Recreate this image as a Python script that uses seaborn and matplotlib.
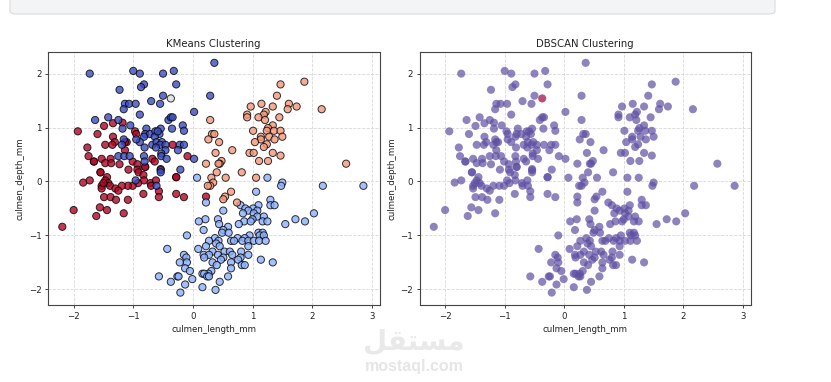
import seaborn as sns
import pandas as pd
import matplotlib.pyplot as plt
from matplotlib.patches import FancyBboxPatch

# values (scaled culmen length / depth per KMeans cluster)
blue_x = [-1.73,-1.0,-0.89,-0.5,-0.32,0.36,-0.82,-0.87,-0.28,-1.23,-0.5,0.29,-0.7,-1.14,-1.07,-0.96,-0.55,-1.16,0.02,-0.89,
          -1.64,-1.42,-1.25,-0.41,-0.37,-0.34,-1.18,-1.05,-0.78,-0.54,-0.35,-0.17,-0.15,-0.8,-0.72,-0.63,-0.56,-0.82,-0.64,-0.59,
          -1.16,-0.89,-0.95,-0.81,-0.68,-0.61,-0.52,-0.55,-0.46,-0.62,-0.46,-0.53,-0.53,-0.44,-0.22,-0.15,-0.25,0.02,-1.19,
          -1.25,-1.15,-1.06,-0.82,-0.81,-0.54,-0.54,-0.21,-0.96,-0.61]
blue_y = [2.0,2.05,2.0,2.0,2.05,2.2,1.8,1.75,1.8,1.7,1.59,1.59,1.49,1.44,1.44,1.44,1.44,1.34,1.29,1.24,
          1.14,1.19,1.14,1.14,1.19,1.19,0.98,1.04,0.98,0.98,0.98,1.04,0.94,0.88,0.88,0.93,0.88,0.83,0.83,0.93,
          0.78,0.73,0.78,0.63,0.68,0.73,0.73,0.68,0.68,0.63,0.58,0.52,0.47,0.42,0.68,0.68,0.58,0.42,0.68,
          0.47,0.47,0.47,0.47,0.37,0.21,0.17,0.22,0.02,-0.08]

red_x = [-1.93,-1.6,-1.34,-1.77,-1.47,-1.31,-1.35,-1.11,-1.14,-1.75,-1.66,-1.66,-1.53,-1.38,-1.47,-1.37,-1.23,-1.14,-1.55,-1.55,
         -1.84,-1.73,-1.44,-1.47,-1.42,-1.53,-1.53,-1.39,-1.5,-1.08,-1.01,-0.93,-0.93,-0.91,-0.83,-0.8,-0.8,-0.82,-0.68,-0.64,
         -0.71,-0.62,-0.7,-0.92,-1.01,-1.09,-1.19,-1.3,-1.25,-1.49,-1.38,-1.29,-1.09,-0.83,-0.57,-0.57,-0.28,-0.15,-2.0,-1.56,
         -1.44,-1.62,-1.16,-0.34,-0.09,-0.28,-0.28,-0.97,-0.95,-1.49,-1.34,-1.18,-2.19,0.22,-0.54]
red_y = [0.93,0.88,0.83,0.63,0.68,0.73,0.68,0.73,0.73,0.47,0.37,0.37,0.42,0.42,0.34,0.34,0.32,0.58,0.17,0.17,
         -0.02,0.02,0.08,0.02,-0.03,-0.08,-0.13,-0.08,-0.03,0.22,0.37,0.32,0.22,0.17,0.12,0.27,0.27,0.02,0.42,0.37,
         -0.03,0.02,-0.08,-0.03,-0.08,-0.08,-0.08,-0.13,-0.17,-0.29,-0.29,-0.34,-0.34,-0.23,-0.18,-0.29,-0.23,-0.29,-0.53,-0.48,
         -0.53,-0.64,-0.59,0.68,0.47,0.08,0.08,0.93,0.88,1.03,1.08,1.09,-0.84,-0.28,0.23]

salmon_x = [1.47,1.87,1.41,1.15,1.61,0.97,1.34,1.74,1.59,2.16,1.22,0.91,0.91,1.19,1.1,1.21,1.45,0.29,1.34,1.26,
            1.24,1.36,1.47,1.01,0.32,0.36,1.14,1.28,1.5,0.26,1.14,1.37,0.44,1.04,1.24,1.19,0.66,0.38,0.95,1.02,
            1.34,1.47,1.11,1.26,0.48,0.45,0.43,0.22,2.57,0.4,0.82,0.31,0.55,1.06,0.34,0.29,0.25,0.64,0.54,0.51,0.74]
salmon_y = [1.8,1.85,1.59,1.44,1.44,1.39,1.39,1.39,1.34,1.34,1.29,1.24,1.19,1.24,1.19,1.14,1.19,1.14,1.04,0.99,
            0.94,0.94,0.94,0.94,0.88,0.88,0.83,0.83,0.83,0.78,0.78,0.78,0.73,0.73,0.69,0.64,0.58,0.53,0.53,0.53,
            0.53,0.48,0.38,0.38,0.38,0.33,0.33,0.33,0.33,0.17,0.17,0.07,0.07,0.07,-0.02,-0.08,-0.08,-0.19,-0.28,-0.33,-0.39]

light_x = [0.07,1.25,1.5,1.48,2.18,2.86,1.06,0.22,1.3,1.3,1.37,1.1,0.8,0.88,1.01,0.51,0.93,1.08,1.02,0.84,
           2.03,1.08,1.19,0.42,0.21,1.0,1.72,0.1,0.86,0.97,1.17,1.25,1.88,0.44,0.77,1.55,0.59,0.18,0.51,0.49,
           0.6,1.1,1.17,-0.1,0.95,1.12,1.19,0.37,0.75,0.87,0.27,0.43,0.64,0.69,0.83,0.93,1.02,1.11,1.22,0.39,
           0.93,0.22,0.45,-0.43,0.09,0.33,0.53,0.62,0.81,-0.15,0.18,0.27,0.42,0.66,0.93,-0.11,0.19,0.51,0.8,0.76,
           0.47,1.14,-0.22,-0.1,0.33,0.64,1.34,0.4,0.82,0.87,-0.13,0.64,-0.05,0.31,0.26,0.16,0.19,-0.57,-0.26,-0.24,
           0.24,0.27,0.59,-0.01,-0.37,0.45,-0.13,0.16,0.38,-0.21]
light_y = [0.07,0.07,-0.02,-0.08,-0.08,-0.08,-0.19,-0.39,-0.34,-0.44,-0.44,-0.44,-0.44,-0.5,-0.5,-0.54,-0.54,-0.54,-0.59,-0.59,
           -0.59,-0.65,-0.65,-0.7,-0.7,-0.7,-0.7,-0.74,-0.74,-0.74,-0.74,-0.74,-0.74,-0.79,-0.79,-0.79,-0.84,-0.9,-0.9,-0.95,
           -0.95,-0.95,-0.95,-1.0,-1.0,-1.0,-1.0,-1.05,-1.05,-1.05,-1.1,-1.1,-1.1,-1.1,-1.1,-1.1,-1.1,-1.1,-1.1,-1.15,
           -1.2,-1.2,-1.2,-1.25,-1.25,-1.3,-1.3,-1.3,-1.3,-1.36,-1.36,-1.36,-1.36,-1.36,-1.36,-1.41,-1.41,-1.41,-1.41,-1.45,
           -1.45,-1.45,-1.5,-1.5,-1.5,-1.5,-1.5,-1.55,-1.55,-1.55,-1.61,-1.61,-1.66,-1.66,-1.71,-1.71,-1.71,-1.76,-1.76,-1.76,
           -1.76,-1.76,-1.76,-1.81,-1.86,-1.86,-1.91,-1.96,-2.01,-2.06]

grey_x = [-0.37]
grey_y = [1.54]

sns.set_style("white")
plt.rcParams['font.family'] = ['DejaVu Sans']

frames = []
for xs, ys, lab in [(red_x, red_y, 4), (blue_x, blue_y, 0), (light_x, light_y, 1), (grey_x, grey_y, 2), (salmon_x, salmon_y, 3)]:
    frames.append(pd.DataFrame({"culmen_length_mm": xs, "culmen_depth_mm": ys, "kmeans": lab}))
df = pd.concat(frames, ignore_index=True)
df["dbscan"] = (df["kmeans"] != 2).astype(int) - 1

fig = plt.figure(figsize=(8.31, 3.82), dpi=100)
ax1 = fig.add_axes([48/831, 1-305/382, 331.5/831, 253.5/382])
ax2 = fig.add_axes([419.5/831, 1-305/382, 331.2/831, 253.5/382])

sns.scatterplot(data=df, x="culmen_length_mm", y="culmen_depth_mm", hue="kmeans", palette="coolwarm", hue_norm=(0, 4),
                s=27, edgecolor="k", linewidth=0.7, alpha=0.8, legend=False, ax=ax1)
sns.scatterplot(data=df, x="culmen_length_mm", y="culmen_depth_mm", hue="dbscan", palette="Spectral", hue_norm=(-1, 0),
                s=34, edgecolor="none", alpha=0.7, legend=False, ax=ax2)

for ax, title in [(ax1, "KMeans Clustering"), (ax2, "DBSCAN Clustering")]:
    ax.set_title(title, fontsize=7.3, pad=3.5, color="#222222")
    ax.set_xlim(-2.43, 3.13)
    ax.set_ylim(-2.29, 2.41)
    ax.set_xticks([-2, -1, 0, 1, 2, 3])
    ax.set_yticks([-2, -1, 0, 1, 2])
    ax.set_xlabel("culmen_length_mm", fontsize=6.2, labelpad=3, color="#222222")
    ax.set_ylabel("culmen_depth_mm", fontsize=6.2, labelpad=3, color="#222222")
    ax.tick_params(labelsize=6.2, length=2.2, width=0.6, pad=2.5, bottom=True, left=True, colors="#222222")
    ax.grid(True, linestyle="--", linewidth=0.6, color="#d8d8d8")
    ax.set_axisbelow(True)
    for s in ax.spines.values():
        s.set_linewidth(0.8)
        s.set_color("#444444")

# page furniture around the chart
fig.add_artist(FancyBboxPatch((10/831, 1-14/382), 765/831, 30/382, transform=fig.transFigure,
                              boxstyle="round,pad=0,rounding_size=0.008", facecolor="#f3f4f6", edgecolor="#dcdcdc", linewidth=0.8))
fig.text(414/831, 1-342/382, "\ufedE\ufed8\ufe98\ufeb4\ufee3", fontsize=20, fontweight="bold", color="#e9e9e9",
         ha="center", va="center")
fig.text(414/831, 1-366/382, "mostaql.com", fontsize=11.5, fontweight="bold", color="#e6e6e6", ha="center", va="center",
         family="Liberation Sans")

plt.savefig("out.png", dpi=100)
